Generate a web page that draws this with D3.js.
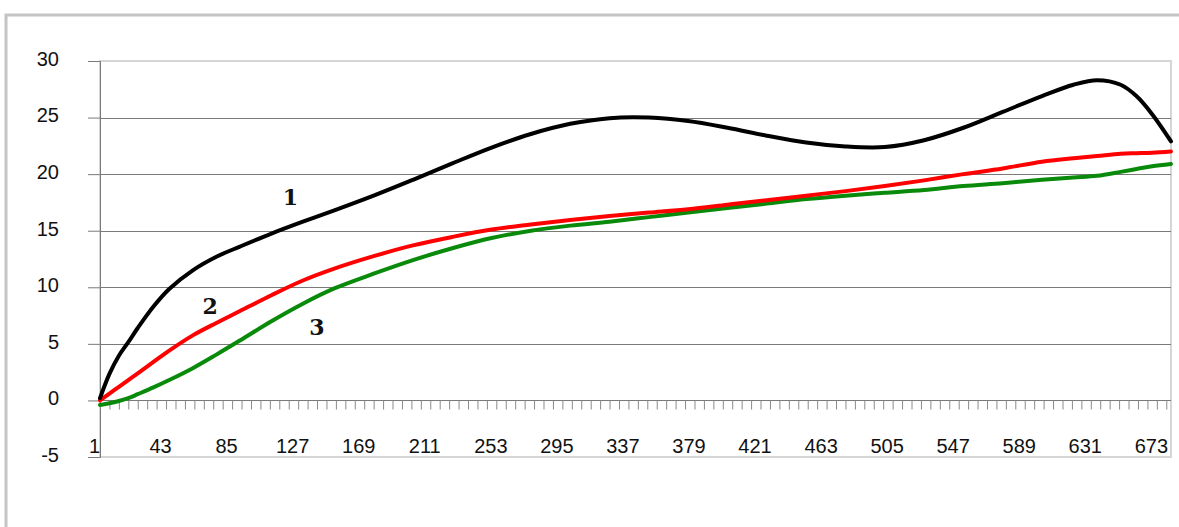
<!DOCTYPE html>
<html>
<head>
<meta charset="utf-8">
<script src="https://cdn.jsdelivr.net/npm/d3@7"></script>
<style>
  html, body { margin: 0; padding: 0; background: #fff; }
  svg { display: block; }
  .tick text { font-family: "Liberation Sans", Arial, sans-serif; font-size: 20px; fill: #111; }
</style>
</head>
<body>
<svg id="chart" width="1179" height="527"></svg>
<script>
// Sample positions along the category axis (1 … 682)
const categories = [1, 7, 13, 19, 25, 35, 45, 60, 75, 90, 110, 130, 150, 175, 200, 225, 250, 275,
  300, 325, 350, 375, 400, 425, 450, 475, 500, 525, 550, 575, 600, 620, 635, 650, 660, 670, 682];

// Curve 1 (black)
const series1 = [0.2, 2.35, 3.95, 5.15, 6.4, 8.3, 9.85, 11.5, 12.7, 13.6, 14.75, 15.8, 16.8, 18.1, 19.5, 20.95, 22.35, 23.55,
  24.45, 24.95, 25.0, 24.7, 24.1, 23.4, 22.8, 22.45, 22.4, 23.0, 24.1, 25.5, 26.9, 27.9, 28.3, 27.9, 26.9, 25.3, 22.9];

// Curve 2 (red)
const series2 = [0.0, 0.6, 1.2, 1.8, 2.4, 3.4, 4.4, 5.75, 6.85, 7.9, 9.3, 10.6, 11.65, 12.75, 13.7, 14.45, 15.1, 15.55,
  15.95, 16.3, 16.6, 16.9, 17.3, 17.7, 18.1, 18.5, 18.95, 19.45, 20.0, 20.5, 21.1, 21.4, 21.6, 21.8, 21.85, 21.9, 22.0];

// Curve 3 (green)
const series3 = [-0.4, -0.25, -0.05, 0.2, 0.55, 1.15, 1.8, 2.85, 4.05, 5.3, 7.0, 8.55, 9.9, 11.2, 12.4, 13.45, 14.35, 15.0,
  15.45, 15.8, 16.2, 16.6, 17.0, 17.4, 17.8, 18.1, 18.35, 18.6, 18.95, 19.2, 19.5, 19.7, 19.85, 20.2, 20.45, 20.7, 20.9];

// Axis ticks
const yTicks = [-5, 0, 5, 10, 15, 20, 25, 30];
const xMinorTicks = d3.range(1, 683, 6);
const xLabels = d3.range(1, 674, 42);

// Curve number tags, anchored in data coordinates
const tagNames = ["1", "2", "3"];
const tagCats = [122, 71, 139];
const tagVals = [17.27, 7.64, 5.8];

const seriesList = [
  { values: series3, color: "#0a8a0a" },
  { values: series2, color: "#ff0000" },
  { values: series1, color: "#000000" }
];

const svg = d3.select("#chart");
const W = 1179, H = 527;
const plotLeft = 100, plotRight = 1171, plotTop = 61, plotBottom = 457;

// outer chart frame
svg.append("rect")
  .attr("x", 6).attr("y", 15)
  .attr("width", W + 20).attr("height", H + 20)
  .attr("fill", "#fff").attr("stroke", "#c4c4c4").attr("stroke-width", 3);

const x = d3.scaleLinear().domain([1, 682]).range([plotLeft, plotRight]);
const y = d3.scaleLinear().domain([-5, 30]).range([plotBottom, plotTop]);

// plot area border
svg.append("rect")
  .attr("x", plotLeft).attr("y", plotTop)
  .attr("width", plotRight - plotLeft).attr("height", plotBottom - plotTop)
  .attr("fill", "none").attr("stroke", "#d6d6d6").attr("stroke-width", 2);

// horizontal gridlines
svg.append("g")
  .selectAll("line")
  .data(yTicks.filter(v => v > -5 && v < 30))
  .join("line")
  .attr("x1", plotLeft).attr("x2", plotRight)
  .attr("y1", d => Math.round(y(d)) + 0.5).attr("y2", d => Math.round(y(d)) + 0.5)
  .attr("stroke", "#7a7a7a").attr("stroke-width", 1);

// value axis
const yAxis = svg.append("g")
  .attr("transform", `translate(${plotLeft},0)`)
  .call(d3.axisLeft(y).tickValues(yTicks).tickSize(12).tickPadding(29).tickFormat(d => String(d)));
yAxis.select(".domain").attr("stroke", "#7a7a7a");
yAxis.selectAll(".tick line").attr("stroke", "#7a7a7a");
yAxis.selectAll(".tick text").attr("dy", "0.22em");

// category axis: minor ticks on the zero line
const xAxis = svg.append("g")
  .attr("transform", `translate(0,${Math.round(y(0)) + 0.5})`)
  .call(d3.axisBottom(x).tickValues(xMinorTicks).tickSize(9).tickFormat(""));
xAxis.select(".domain").remove();
xAxis.selectAll(".tick line").attr("stroke", "#8a8a8a");

// category labels
const xLab = svg.append("g")
  .attr("transform", `translate(-6,${plotBottom - 18})`)
  .call(d3.axisBottom(x).tickValues(xLabels).tickSize(0).tickPadding(0).tickFormat(d => String(d)));
xLab.select(".domain").remove();
xLab.selectAll(".tick text").attr("dy", "0.71em");

// curves
const line = d3.line()
  .x((d, i) => x(categories[i]))
  .y(d => y(d))
  .curve(d3.curveCatmullRom.alpha(0.5));

svg.append("g")
  .selectAll("path")
  .data(seriesList)
  .join("path")
  .attr("d", d => line(d.values))
  .attr("fill", "none")
  .attr("stroke", d => d.color)
  .attr("stroke-width", 4)
  .attr("stroke-linejoin", "round")
  .attr("stroke-linecap", "round");

// curve number tags
svg.append("g")
  .selectAll("text")
  .data(tagNames)
  .join("text")
  .attr("x", (d, i) => x(tagCats[i]))
  .attr("y", (d, i) => y(tagVals[i]))
  .attr("text-anchor", "middle")
  .attr("font-family", "'DejaVu Serif', 'Liberation Serif', serif")
  .attr("font-weight", "bold")
  .attr("font-size", 22)
  .attr("fill", "#111")
  .text(d => d);
</script>
</body>
</html>
